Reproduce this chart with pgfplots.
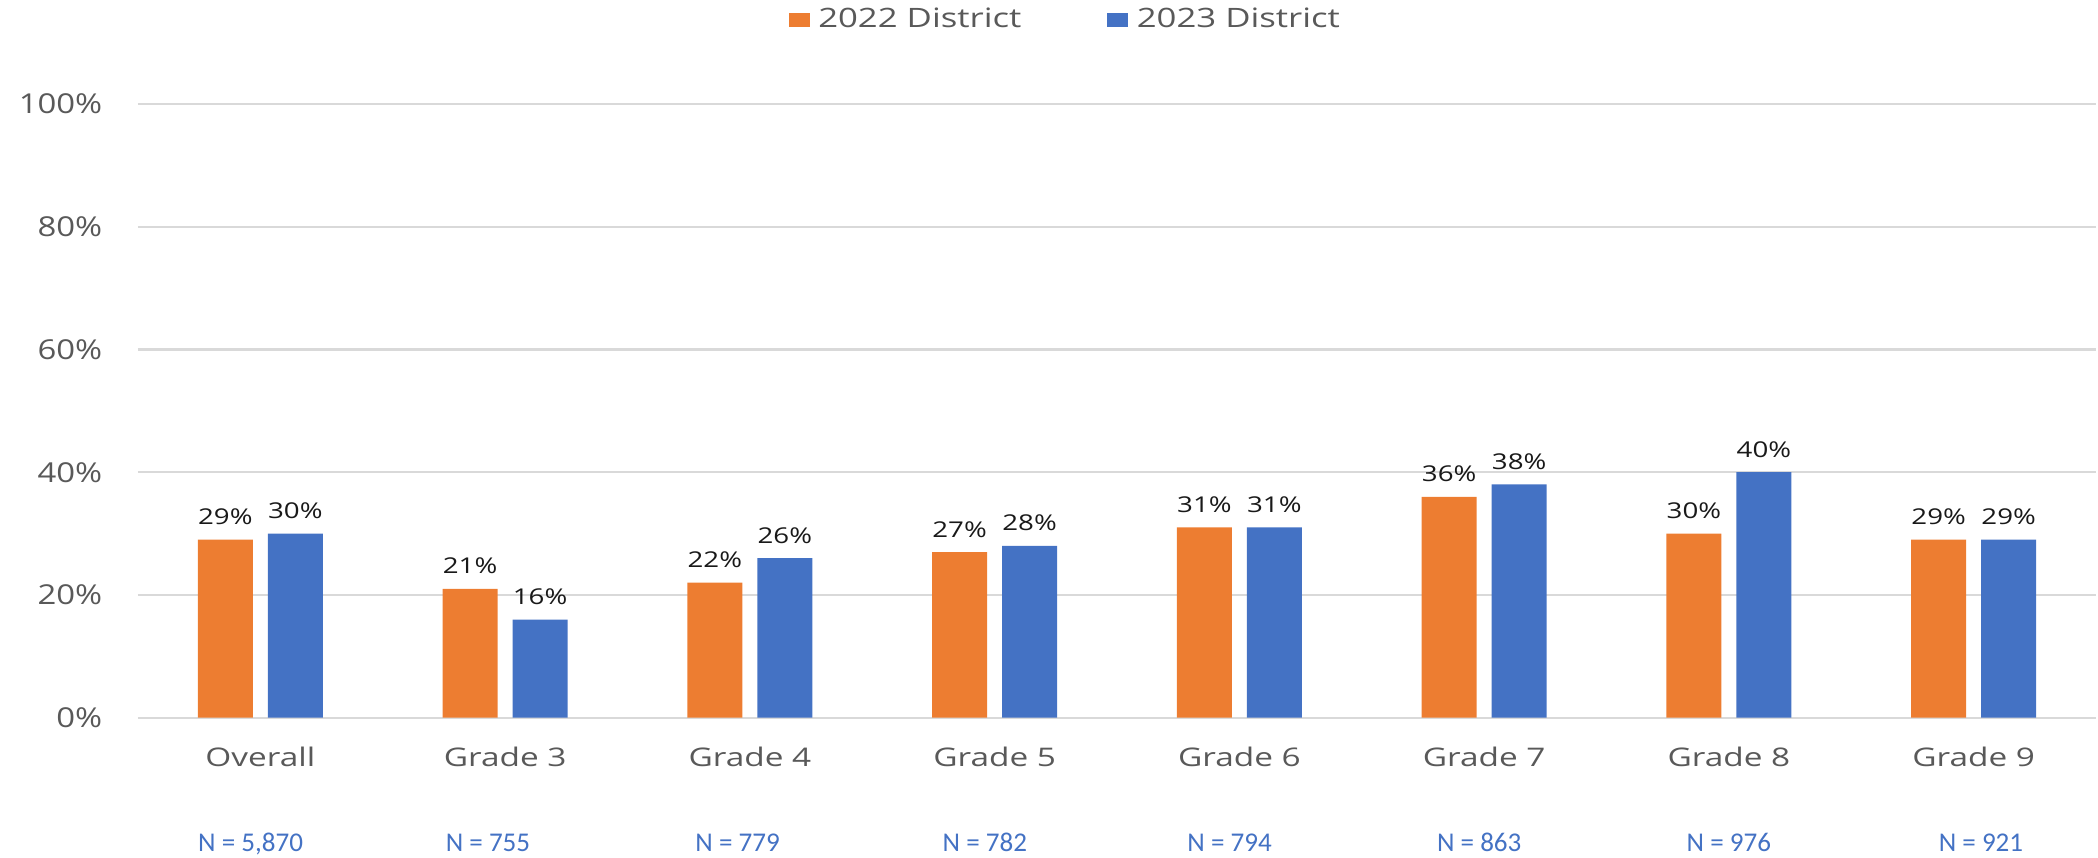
\documentclass[border=0pt]{standalone}
\usepackage{pgfplots}
\pgfplotsset{compat=1.18}
\usepackage{fontspec}
\setmainfont{Open Sans}
\newfontfamily\tickfont[FakeStretch=1.2]{Open Sans}
\newfontfamily\legfont[FakeStretch=1.3]{Open Sans}
\newfontfamily\catfont[FakeStretch=1.3]{Open Sans}
\newfontfamily\datafont[FakeStretch=1.27]{Open Sans}
\newfontfamily\nfont{Carlito}

\definecolor{xlorange}{HTML}{ED7D31}
\definecolor{xlblue}{HTML}{4472C4}
\definecolor{gridgray}{HTML}{D9D9D9}
\definecolor{labgray}{HTML}{595959}

\begin{document}
\begin{tikzpicture}
\useasboundingbox (-13.8mm,-13.93mm) rectangle (196mm,71.77mm);
\begin{axis}[
  width=195.8mm, height=61.37mm, scale only axis,
  ybar=1.5mm, bar width=5.5mm,
  xmin=-0.5, xmax=7.5, ymin=0, ymax=100,
  enlargelimits=false, clip=false,
  axis line style={draw=none},
  tick style={draw=none},
  ymajorgrids, grid style={draw=gridgray, line width=0.6pt},
  ytick={0,20,40,60,80,100},
  yticklabels={0\%,20\%,40\%,60\%,80\%,100\%},
  yticklabel style={anchor=east, inner sep=0pt, xshift=-3.5mm,
    font=\tickfont\fontsize{7.8}{9}\selectfont, text=labgray},
  xtick={0,...,7},
  xticklabels={Overall,Grade 3,Grade 4,Grade 5,Grade 6,Grade 7,Grade 8,Grade 9},
  xticklabel style={anchor=base, inner sep=0pt, yshift=-3.4mm,
    font=\catfont\fontsize{7.3}{8.5}\selectfont, text=labgray},
  /pgf/number format/assume math mode=true,
  nodes near coords={\pgfmathprintnumber{\pgfplotspointmeta}\%},
  every node near coord/.append style={anchor=base, inner sep=0pt, yshift=1.5mm,
    font=\datafont\fontsize{6.2}{7.5}\selectfont, text=black!90},
  legend columns=2,
  legend image code/.code={
    \fill[#1, draw=none] (0mm,-0.7mm) rectangle (2.1mm,0.7mm);
    \path (2.95mm,0mm);
  },
  legend style={at={(rel axis cs:0.332,1.137)}, anchor=west,
    draw=none, fill=none, inner sep=0pt,
    font=\legfont\fontsize{7.6}{9}\selectfont, text=labgray,
    nodes={inner sep=0pt},
    /tikz/every even column/.append style={column sep=8.6mm}},
]
\addplot[fill=xlorange, draw=none] coordinates {
  (0,29) (1,21) (2,22) (3,27) (4,31) (5,36) (6,30) (7,29)
};
\addplot[fill=xlblue, draw=none] coordinates {
  (0,30) (1,16) (2,26) (3,28) (4,31) (5,38) (6,40) (7,29)
};
\legend{2022 District, 2023 District}

% sample sizes under the category labels
\begin{scope}[every node/.style={anchor=base, inner sep=0pt, yshift=-13.4mm,
    font=\nfont\fontsize{7.7}{9}\selectfont, text=xlblue}]
\node at (axis cs:-0.04,0) {N = 5,870};
\node at (axis cs:0.93,0) {N = 755};
\node at (axis cs:1.95,0) {N = 779};
\node at (axis cs:2.96,0) {N = 782};
\node at (axis cs:3.96,0) {N = 794};
\node at (axis cs:4.98,0) {N = 863};
\node at (axis cs:6.00,0) {N = 976};
\node at (axis cs:7.03,0) {N = 921};
\end{scope}
\end{axis}
\end{tikzpicture}
\end{document}
